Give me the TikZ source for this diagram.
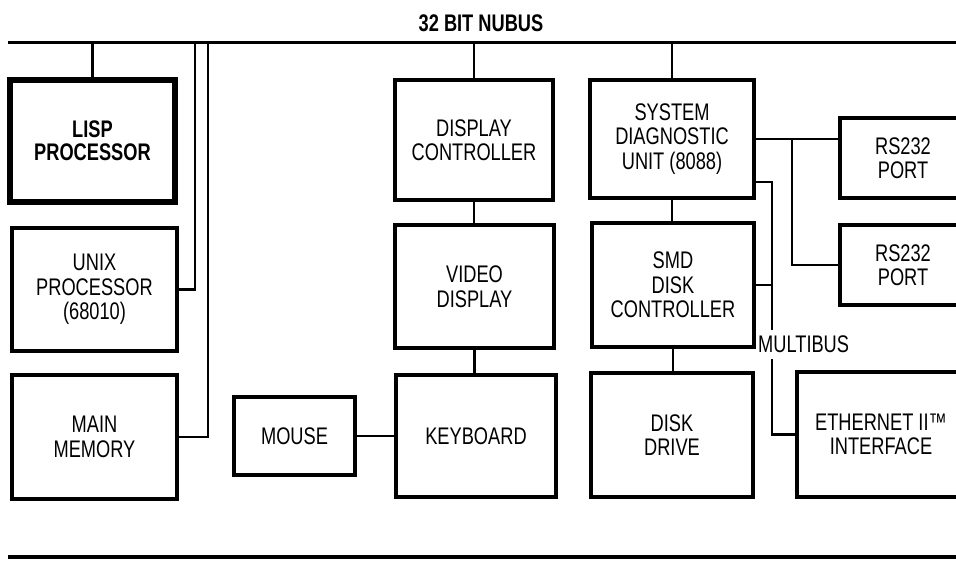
\documentclass[tikz,border=0pt]{standalone}
\usepackage{fontspec}
\setmainfont{Liberation Sans}[FakeStretch=0.76]
\begin{document}
\begin{tikzpicture}[x=1pt,y=-1pt,
  box/.style={draw, line width=3.5pt, align=center, inner sep=0pt,
    font=\fontsize{24}{24.5}\selectfont},
  lispbox/.style={line width=6pt, font=\bfseries\fontsize{24}{23}\selectfont},
  wire/.style={line width=2.5pt},
  busline/.style={line width=3pt},
  lbl/.style={inner sep=0pt, font=\fontsize{24}{24.5}\selectfont}]
\useasboundingbox (0,0) rectangle (956,560);
\clip (0,0) rectangle (956,560);
% boxes
\node[box, lispbox, minimum width=165pt, minimum height=122pt] (lisp) at (92.5,141) {LISP\\PROCESSOR};
\node[box, minimum width=165pt, minimum height=123pt] (unix) at (94.5,289.5) {UNIX\\PROCESSOR\\(68010)};
\node[box, minimum width=165pt, minimum height=124pt] (main) at (94.5,437) {MAIN\\MEMORY};
\node[box, minimum width=158pt, minimum height=120pt] (disp) at (474,140) {DISPLAY\\CONTROLLER};
\node[box, minimum width=159pt, minimum height=123pt] (video) at (474.5,286.5) {VIDEO\\DISPLAY};
\node[box, minimum width=160pt, minimum height=122pt] (kbd) at (476,436) {KEYBOARD};
\node[box, minimum width=121pt, minimum height=78pt] (mouse) at (294.5,436) {MOUSE};
\node[box, minimum width=164pt, minimum height=118pt] (sdu) at (672,139) {SYSTEM\\DIAGNOSTIC\\UNIT (8088)};
\node[box, minimum width=162pt, minimum height=124pt] (smd) at (673,285) {SMD\\DISK\\CONTROLLER};
\node[box, minimum width=162pt, minimum height=124pt] (disk) at (672,435) {DISK\\DRIVE};
\node[box, minimum width=126pt, minimum height=80pt] (rs1) at (903,158) {RS232\\PORT};
\node[box, minimum width=126pt, minimum height=80pt] (rs2) at (903,265) {RS232\\PORT};
\node[box, minimum width=168pt, minimum height=125pt] (eth) at (881,434.5) {ETHERNET II™\\INTERFACE};
% labels
\node[lbl, font=\bfseries\fontsize{24}{24.5}\selectfont] (nubus) at (481,23) {32 BIT NUBUS};
\node[lbl, anchor=west] (mb) at (758,344) {MULTIBUS};
% nubus
\coordinate (busL) at (8,42);
\coordinate (busR) at (962,42);
\draw[busline] (busL) -- (busR);
\coordinate (uj) at (195,42);
\coordinate (mj) at (208,42);
\draw[wire] (lisp.north) -- (lisp.north |- busL);
\draw[wire] (unix.east) -| (uj);
\draw[wire] (main.east) -| (mj);
\draw[wire] (disp.north) -- (disp.north |- busL);
\draw[wire] (sdu.north) -- (sdu.north |- busL);
% internal links
\draw[wire] (disp.south) -- (disp.south |- video.north);
\draw[wire] (video.south) -- (video.south |- kbd.north);
\draw[wire] (mouse) -- (kbd);
\draw[wire] (sdu.south) -- (sdu.south |- smd.north);
\draw[wire] (smd.south) -- (smd.south |- disk.north);
% RS232
\coordinate (rsj) at (792,139);
\draw[wire] (sdu.east) -- (sdu.east -| rs1.west);
\draw[wire] (rsj) |- (rs2.west);
% multibus
\coordinate (mbt) at (772,182);
\coordinate (mbg1) at (772,330);
\coordinate (mbg2) at (772,359);
\draw[wire] (sdu.east |- mbt) -- (mbt) -- (mbg1);
\draw[wire] (smd.east) -- (smd.east -| mbt);
\draw[wire] (mbg2) |- (eth.west);
% bottom rule
\coordinate (botL) at (8,557);
\coordinate (botR) at (962,557);
\draw[line width=4pt] (botL) -- (botR);
\end{tikzpicture}
\end{document}
